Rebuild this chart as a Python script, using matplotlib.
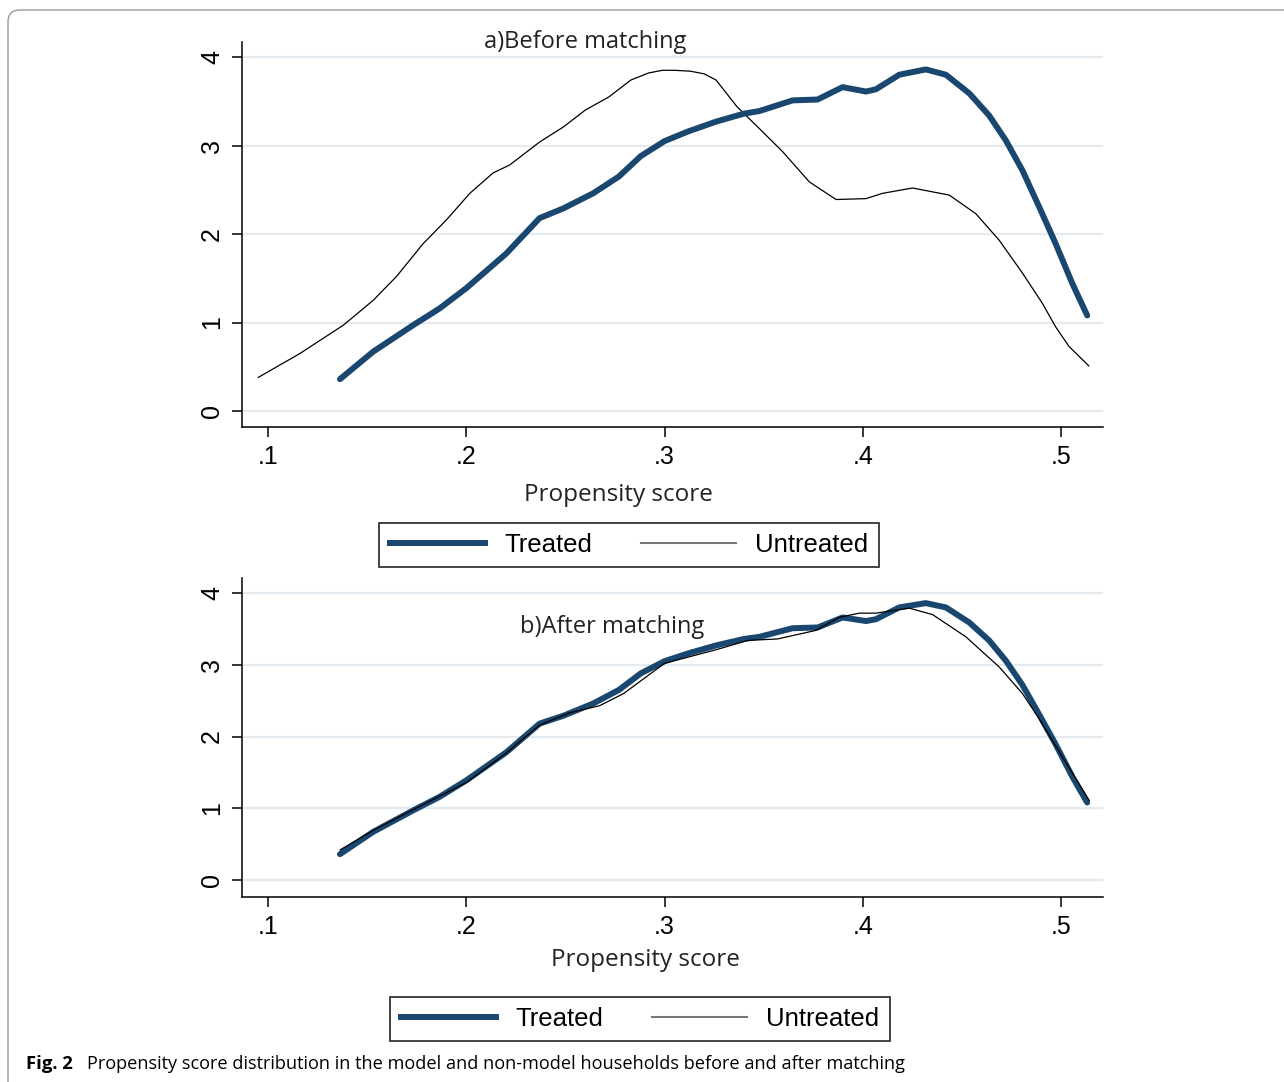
import matplotlib.pyplot as plt
import numpy as np
from matplotlib.lines import Line2D
from matplotlib.patches import FancyBboxPatch

# kernel density of propensity score
treated_x = [0.1363, 0.153, 0.1732, 0.1866, 0.2001, 0.2202, 0.237, 0.249, 0.264, 0.277,
             0.288, 0.300, 0.312, 0.326, 0.340, 0.3479, 0.3646, 0.3772, 0.3898, 0.4016,
             0.4066, 0.4184, 0.4318, 0.4419, 0.4537, 0.4637, 0.4721, 0.4805, 0.4889, 0.4973,
             0.5057, 0.5132]
treated_y = [0.36, 0.67, 0.97, 1.16, 1.39, 1.78, 2.18, 2.29, 2.46, 2.65,
             2.88, 3.05, 3.16, 3.27, 3.36, 3.39, 3.51, 3.52, 3.66, 3.61,
             3.635, 3.80, 3.86, 3.80, 3.59, 3.34, 3.06, 2.72, 2.31, 1.89,
             1.44, 1.08]

untreated_before_x = [0.0951, 0.1161, 0.138, 0.153, 0.1648, 0.1782, 0.190, 0.2018, 0.2135, 0.2219,
                      0.237, 0.249, 0.260, 0.272, 0.283, 0.292, 0.299, 0.305, 0.313, 0.320,
                      0.326, 0.3365, 0.3479, 0.3596, 0.373, 0.3865, 0.4016, 0.410, 0.4251, 0.4436,
                      0.457, 0.4688, 0.4805, 0.4905, 0.4973, 0.504, 0.514]
untreated_before_y = [0.38, 0.65, 0.97, 1.25, 1.52, 1.89, 2.16, 2.46, 2.69, 2.78,
                      3.04, 3.21, 3.40, 3.55, 3.74, 3.82, 3.85, 3.85, 3.84, 3.81,
                      3.74, 3.44, 3.19, 2.93, 2.59, 2.39, 2.40, 2.46, 2.52, 2.44,
                      2.23, 1.93, 1.56, 1.22, 0.95, 0.73, 0.51]

untreated_after_x = [0.1364, 0.153, 0.1732, 0.2001, 0.2202, 0.237, 0.2521, 0.2673, 0.2794, 0.300,
                     0.3273, 0.342, 0.357, 0.3764, 0.388, 0.3982, 0.4066, 0.4234, 0.4352, 0.452,
                     0.4688, 0.4805, 0.4889, 0.5006, 0.5142]
untreated_after_y = [0.42, 0.69, 0.98, 1.36, 1.77, 2.16, 2.33, 2.43, 2.60, 3.02,
                     3.22, 3.34, 3.36, 3.48, 3.66, 3.72, 3.72, 3.79, 3.70, 3.39,
                     2.97, 2.60, 2.25, 1.72, 1.11]

xticks = [0.1, 0.2, 0.3, 0.4, 0.5]
xticklabels = ['.1', '.2', '.3', '.4', '.5']
yticks = [0, 1, 2, 3, 4]

navy = '#1a476f'
gridc = '#e4ebf0'

fig = plt.figure(figsize=(12.84, 10.82), dpi=100)

ax1 = fig.add_axes([0.1885, 0.6054, 0.6706, 0.3558])
ax2 = fig.add_axes([0.1885, 0.1710, 0.6706, 0.2948])

def style(ax, ylim):
    ax.set_xlim(0.0869, 0.5212)
    ax.set_ylim(*ylim)
    ax.set_xticks(xticks)
    ax.set_xticklabels(xticklabels, family='Liberation Sans', fontsize=18)
    ax.set_yticks(yticks)
    ax.set_yticklabels([str(t) for t in yticks], family='Liberation Sans',
                       fontsize=18, rotation=90, va='center')
    ax.tick_params(length=7, width=1.1, color='black', pad=6)
    ax.yaxis.grid(True, color=gridc, lw=1.6)
    ax.set_axisbelow(True)
    for s in ['top', 'right']:
        ax.spines[s].set_visible(False)
    for s in ['left', 'bottom']:
        ax.spines[s].set_linewidth(1.1)

ax1.plot(untreated_before_x, untreated_before_y, color='black', lw=0.9)
ax1.plot(treated_x, treated_y, color=navy, lw=4.3, solid_capstyle='round',
         solid_joinstyle='round')
style(ax1, (-0.18, 4.17))

ax2.plot(treated_x, treated_y, color=navy, lw=4.3, solid_capstyle='round',
         solid_joinstyle='round')
ax2.plot(untreated_after_x, untreated_after_y, color='black', lw=0.9)
style(ax2, (-0.237, 4.21))

W, H = 1284.0, 1082.0
fig.text(585 / W, 1 - 42 / H, 'a)Before matching', family='Open Sans',
         fontsize=17, ha='center', va='center', color='#222222')
fig.text(612 / W, 1 - 627 / H, 'b)After matching', family='Open Sans',
         fontsize=17, ha='center', va='center', color='#222222')
fig.text(618 / W, 1 - 495 / H, 'Propensity score', family='Open Sans',
         fontsize=17.5, ha='center', va='center', color='#222222')
fig.text(645 / W, 1 - 960 / H, 'Propensity score', family='Open Sans',
         fontsize=17.5, ha='center', va='center', color='#222222')

handles = [Line2D([], [], color=navy, lw=4.3),
           Line2D([], [], color='#777777', lw=1.5)]
labels = ['Treated', 'Untreated']
for cx, cy in [(629, 545), (640, 1019)]:
    leg = fig.legend(handles, labels, loc='center', ncol=2,
                     bbox_to_anchor=(cx / W, 1 - cy / H),
                     prop={'family': 'Liberation Sans', 'size': 18.5},
                     handlelength=3.7, handletextpad=0.75, columnspacing=1.9,
                     fancybox=False, edgecolor='#222222', framealpha=1,
                     borderpad=0.4)
    leg.get_frame().set_linewidth(1.2)

# journal figure frame
frame = FancyBboxPatch((8, -30), 1300, 1102, boxstyle='round,pad=0,rounding_size=12',
                       transform=None, fill=False, edgecolor='#999999', lw=1.0)
fig.patches.append(frame)

fig.text(26 / W, 1 - 1064 / H, 'Fig. 2', family='Open Sans', weight='bold',
         fontsize=13.3, ha='left', va='center')
fig.text(87 / W, 1 - 1064 / H,
         'Propensity score distribution in the model and non-model households before and after matching',
         family='Open Sans', fontsize=13.1, ha='left', va='center')

fig.savefig('out.png', dpi=100)
